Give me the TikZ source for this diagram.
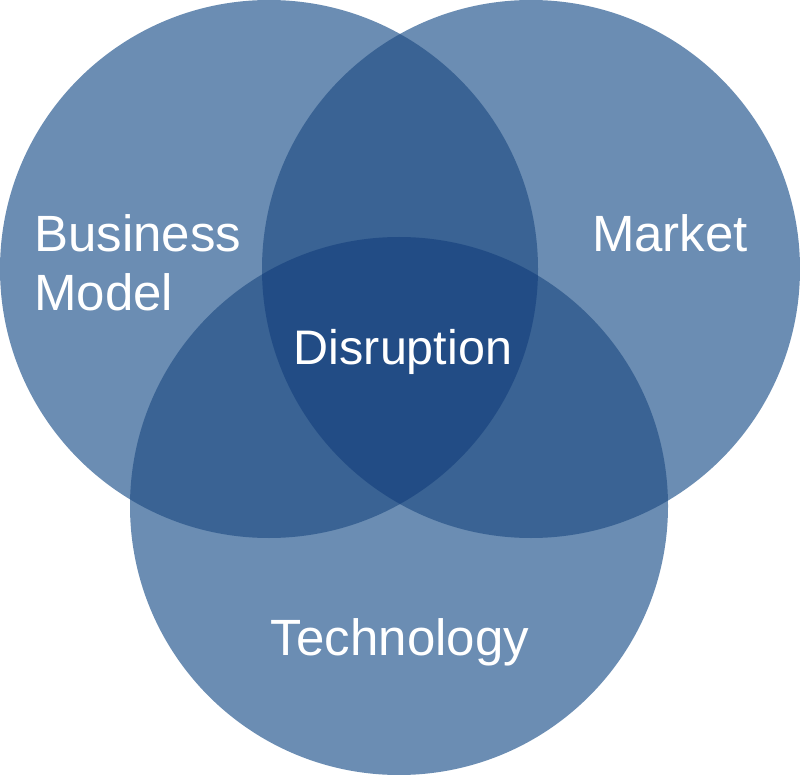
\documentclass[tikz,border=0pt]{standalone}
\usepackage{fontspec}
\setmainfont{Liberation Sans}
\definecolor{one}{HTML}{6B8DB3}
\definecolor{two}{HTML}{3A6394}
\definecolor{three}{HTML}{224C85}
\begin{document}
\begin{tikzpicture}[x=1pt,y=-1pt,
  lbl/.style={text=white,font=\fontsize{51}{59}\selectfont,inner sep=0pt}]
\useasboundingbox (0,0) rectangle (800,775);
\def\cL{(269,269) circle[radius=269]}
\def\cR{(531,269) circle[radius=269]}
\def\cB{(399,506) circle[radius=269]}
% single regions
\fill[one] \cL; \fill[one] \cR; \fill[one] \cB;
% pairwise
\begin{scope}\clip \cL; \fill[two] \cR; \fill[two] \cB;\end{scope}
\begin{scope}\clip \cR; \fill[two] \cB;\end{scope}
% triple
\begin{scope}\clip \cL; \clip \cR; \fill[three] \cB;\end{scope}
% labels
\node[lbl,anchor=base west,align=left] (bm) at (34,311) {Business\\Model};
\node[lbl,anchor=base] (mk) at (670,252) {Market};
\node[lbl,anchor=base,font=\fontsize{48.5}{58}\selectfont] (ds) at (403,364) {Disruption};
\node[lbl,anchor=base] (tc) at (400,655) {Technology};
\end{tikzpicture}
\end{document}
